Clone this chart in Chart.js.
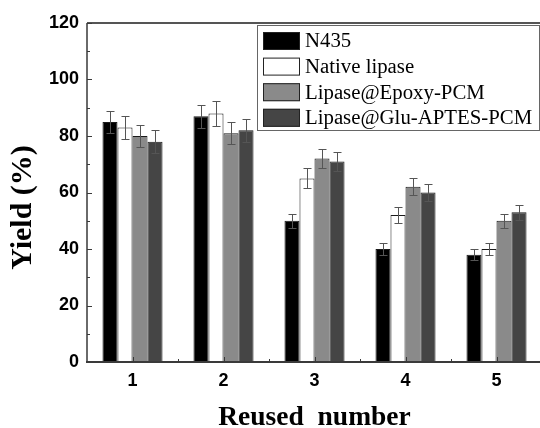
<!DOCTYPE html>
<html><head><meta charset="utf-8">
<script src="https://cdn.jsdelivr.net/npm/chart.js@4/dist/chart.umd.min.js"></script>
<style>html,body{margin:0;padding:0;background:#fff;overflow:hidden;width:540px;height:428px}</style>
</head><body>
<canvas id="c" width="548" height="428" style="display:block;width:548px;height:428px"></canvas>
<script>
const categories = ['1', '2', '3', '4', '5'];
const seriesNames = ['N435', 'Native lipase', 'Lipase@Epoxy-PCM', 'Lipase@Glu-APTES-PCM'];
const n435 = [85, 87, 50, 40, 38];
const nativeLipase = [83, 88, 65, 52, 40];
const epoxyPCM = [80, 81, 72, 62, 50];
const gluAptesPCM = [78, 82, 71, 60, 53];
const n435Err = [4, 4, 2.5, 2, 2];
const nativeErr = [4, 4.3, 3.5, 2.7, 2];
const epoxyErr = [4, 4, 3.5, 3, 2.5];
const gluErr = [4, 4, 3.5, 3, 2.7];
const yMin = 0, yMax = 120, yStep = 20;

const fills = ['#000000', '#ffffff', '#8a8a8a', '#454545'];
const seriesValues = [n435, nativeLipase, epoxyPCM, gluAptesPCM];
const seriesErrors = [n435Err, nativeErr, epoxyErr, gluErr];

const datasets = seriesNames.map((name, i) => ({
  label: name,
  data: seriesValues[i],
  errors: seriesErrors[i],
  backgroundColor: fills[i],
  borderColor: '#1a1a1a',
  borderWidth: 1,
  borderSkipped: 'start',
  barPercentage: 1,
  categoryPercentage: 0.66
}));

const errorBarPlugin = {
  id: 'errorBars',
  afterDatasetsDraw(chart) {
    const ctx = chart.ctx, y = chart.scales.y;
    ctx.save();
    ctx.strokeStyle = '#555';
    ctx.lineWidth = 1;
    chart.data.datasets.forEach((ds, di) => {
      const meta = chart.getDatasetMeta(di);
      meta.data.forEach((bar, i) => {
        const v = ds.data[i], e = ds.errors[i];
        const yt = Math.round(y.getPixelForValue(v + e)) + 0.5;
        const yb = Math.round(y.getPixelForValue(v - e)) + 0.5;
        const x = Math.round(bar.x) + 0.5;
        ctx.beginPath();
        ctx.moveTo(x, yt); ctx.lineTo(x, yb);
        ctx.moveTo(x - 4, yt); ctx.lineTo(x + 4, yt);
        ctx.moveTo(x - 4, yb); ctx.lineTo(x + 4, yb);
        ctx.stroke();
      });
    });
    ctx.restore();
  }
};

const framePlugin = {
  id: 'frame',
  afterDatasetsDraw(chart) {
    const ctx = chart.ctx, a = chart.chartArea;
    const xs = chart.scales.x, ys = chart.scales.y;
    ctx.save();
    ctx.strokeStyle = '#555';
    ctx.lineWidth = 2;
    ctx.beginPath();
    ctx.moveTo(a.left, a.top); ctx.lineTo(a.right, a.top);
    ctx.stroke();
    ctx.strokeStyle = '#3a3a3a';
    ctx.lineWidth = 1.5;
    ctx.beginPath();
    ctx.moveTo(a.left, a.top); ctx.lineTo(a.left, a.bottom);
    ctx.moveTo(a.right, a.top); ctx.lineTo(a.right, a.bottom);
    ctx.stroke();
    ctx.lineWidth = 2;
    ctx.beginPath();
    ctx.moveTo(a.left - 1, a.bottom); ctx.lineTo(a.right, a.bottom);
    ctx.stroke();
    ctx.lineWidth = 1;
    ctx.beginPath();
    for (let v = yMin; v <= yMax; v += yStep / 2) {
      const py = Math.round(ys.getPixelForValue(v)) + 0.5;
      const len = (v % yStep === 0) ? 5 : 3;
      ctx.moveTo(a.left, py); ctx.lineTo(a.left + len, py);
    }
    categories.forEach((c, i) => {
      const px = Math.round(xs.getPixelForValue(i)) + 0.5;
      ctx.moveTo(px, a.bottom); ctx.lineTo(px, a.bottom - 5);
      const half = (xs.getPixelForValue(1) - xs.getPixelForValue(0)) / 2;
      const bx = Math.round(xs.getPixelForValue(i) + half) + 0.5;
      ctx.moveTo(bx, a.bottom); ctx.lineTo(bx, a.bottom - 3);
    });
    ctx.stroke();
    ctx.restore();
  }
};

const legendPlugin = {
  id: 'boxLegend',
  afterDraw(chart) {
    const ctx = chart.ctx;
    const left = 257, top = 25, right = 539, bottom = 130;
    ctx.save();
    ctx.fillStyle = '#fff';
    ctx.fillRect(left, top, right - left, bottom - top);
    ctx.strokeStyle = '#666';
    ctx.lineWidth = 1;
    ctx.strokeRect(left + 0.5, top + 0.5, right - left, bottom - top);
    ctx.font = '20.8px "Liberation Serif", "Times New Roman", serif';
    ctx.textBaseline = 'middle';
    chart.data.datasets.forEach((ds, i) => {
      const cy = 41 + i * 25.6;
      ctx.fillStyle = ds.backgroundColor;
      ctx.fillRect(263, cy - 9, 37, 18);
      ctx.strokeStyle = '#222';
      ctx.strokeRect(263.5, cy - 8.5, 36, 17);
      ctx.fillStyle = '#000';
      ctx.fillText(ds.label, 305, cy + 1);
    });
    ctx.restore();
  }
};

new Chart(document.getElementById('c'), {
  type: 'bar',
  data: { labels: categories, datasets },
  plugins: [errorBarPlugin, framePlugin, legendPlugin],
  options: {
    responsive: false,
    devicePixelRatio: 1,
    animation: false,
    layout: { padding: { top: 23, right: 6, left: 0, bottom: 0 } },
    plugins: { legend: { display: false }, tooltip: { enabled: false } },
    scales: {
      x: {
        offset: true,
        grid: { display: false, drawTicks: false },
        border: { display: false },
        ticks: { color: '#000', padding: 8, font: { family: '"Liberation Sans", Arial, sans-serif', size: 18, weight: 'bold' } },
        title: { display: true, text: 'Reused  number', color: '#000', padding: { top: 0, bottom: 2 },
          font: { family: '"Liberation Serif", "Times New Roman", serif', size: 27.5, weight: 'bold', lineHeight: 0.6 } },
        afterFit(s) { s.height = 66; }
      },
      y: {
        min: yMin, max: yMax,
        grid: { display: false, drawTicks: false },
        border: { display: false },
        ticks: { stepSize: yStep, color: '#000', padding: 8, font: { family: '"Liberation Sans", Arial, sans-serif', size: 18, weight: 'bold' } },
        title: { display: true, text: 'Yield (%)    ', color: '#000', padding: { top: 5, bottom: 0 },
          font: { family: '"Liberation Serif", "Times New Roman", serif', size: 30, weight: 'bold', lineHeight: 1.2 } },
        afterFit(s) { s.width = 87; }
      }
    }
  }
});
</script>
</body></html>
